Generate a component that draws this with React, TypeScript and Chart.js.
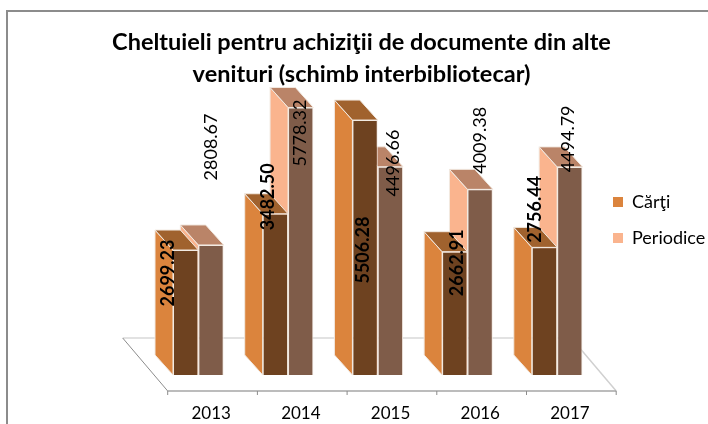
import React, { useEffect, useRef } from "react";
import { Chart, registerables } from "chart.js";

Chart.register(...registerables);

const categories = ["2013", "2014", "2015", "2016", "2017"];
const carti = [2699.23, 3482.5, 5506.28, 2662.91, 2756.44];
const periodice = [2808.67, 5778.32, 4496.66, 4009.38, 4494.79];
const seriesNames = ["Cărţi", "Periodice"];
const titleLines = ["Cheltuieli pentru achiziţii de documente din alte", "venituri (schimb interbibliotecar)"];

// Manual label placement of the source chart, in px from the top centre of each bar
const labelOffsets = [
  [[-17.7, 23], [-7.4, -17], [-2, 130], [2.2, 11], [-9.5, -38]],
  [[0, -98], [-0.7, 25.5], [2.6, -3.8], [0, -49], [-1.8, -28]],
];

const FONT = "Lato, 'Open Sans', sans-serif";
const faces = [
  { side: "#DB843D", top: "#A0622E", front: "#6E4220" },
  { side: "#FAB48E", top: "#BA8468", front: "#7F5C49" },
];
const DEPTH_X = -18;
const DEPTH_Y = -20;
const FLOOR_DX = 14.2;
const FLOOR_DY = 16;
const FLOOR_BACK_Y = 338;
const FLOOR_BACK_DX = -45;

const poly = (ctx: CanvasRenderingContext2D, pts: number[][], fill: string) => {
  ctx.beginPath();
  pts.forEach(([x, y], i) => (i ? ctx.lineTo(x, y) : ctx.moveTo(x, y)));
  ctx.closePath();
  ctx.fillStyle = fill;
  ctx.fill();
  ctx.strokeStyle = "#F2EAE2";
  ctx.lineWidth = 1;
  ctx.stroke();
};

const line = (ctx: CanvasRenderingContext2D, a: number[], b: number[], c: string, w: number) => {
  ctx.beginPath();
  ctx.moveTo(a[0], a[1]);
  ctx.lineTo(b[0], b[1]);
  ctx.strokeStyle = c;
  ctx.lineWidth = w;
  ctx.stroke();
};

const threeD = {
  id: "threeD",
  beforeDraw(chart: any) {
    const ctx = chart.ctx;
    ctx.save();
    line(ctx, [7, 424], [7, 11], "#8C8C8C", 2);
    line(ctx, [6, 11], [708, 11], "#8C8C8C", 2);
    ctx.restore();
  },
  afterLayout(chart: any) {
    const l = chart.legend;
    l.left = chart.chartArea.right + 11 - 18;
    l.right = 708;
    l.width = l.right - l.left;
    l.top = 175;
  },
  beforeDatasetsDraw(chart: any) {
    const ctx = chart.ctx;
    const { left, right, bottom } = chart.chartArea;
    const fy = bottom + FLOOR_DY;
    const fl = left + FLOOR_DX;
    const fr = right + FLOOR_DX;
    ctx.save();
    line(ctx, [fl + FLOOR_BACK_DX, FLOOR_BACK_Y], [fr + FLOOR_BACK_DX, FLOOR_BACK_Y], "#D9D9D9", 1.5);
    line(ctx, [fr + FLOOR_BACK_DX, FLOOR_BACK_Y], [fr, fy], "#D0D0D0", 1.5);
    line(ctx, [fl + FLOOR_BACK_DX, FLOOR_BACK_Y], [fl, fy], "#8C8C8C", 1);
    line(ctx, [fl, fy], [fr, fy], "#A6A6A6", 1.5);
    const w = (right - left) / categories.length;
    for (let i = 0; i <= categories.length; i++) {
      line(ctx, [fl + i * w, fy], [fl + i * w, fy + 4], "#8C8C8C", 1);
    }
    ctx.restore();
  },
  beforeDatasetDraw(chart: any, args: any) {
    const ctx = chart.ctx;
    const f = faces[args.index];
    ctx.save();
    args.meta.data.forEach((el: any) => {
      const { x, y, base, width } = el.getProps(["x", "y", "base", "width"], true);
      const l = x - width / 2;
      const r = x + width / 2;
      poly(ctx, [[l, y], [l + DEPTH_X, y + DEPTH_Y], [l + DEPTH_X, base + DEPTH_Y], [l, base]], f.side);
      poly(ctx, [[l, y], [l + DEPTH_X, y + DEPTH_Y], [r + DEPTH_X, y + DEPTH_Y], [r, y]], f.top);
    });
    ctx.restore();
  },
  afterDatasetsDraw(chart: any) {
    const ctx = chart.ctx;
    ctx.save();
    ctx.fillStyle = "#000";
    ctx.textAlign = "center";
    ctx.textBaseline = "middle";
    chart.data.datasets.forEach((ds: any, di: number) => {
      chart.getDatasetMeta(di).data.forEach((el: any, i: number) => {
        const { x, y } = el.getProps(["x", "y"], true);
        ctx.save();
        ctx.translate(x + labelOffsets[di][i][0], y + labelOffsets[di][i][1]);
        ctx.rotate(-Math.PI / 2);
        ctx.font = `${di === 0 ? "bold " : ""}18px ${FONT}`;
        ctx.fillText(ds.data[i].toFixed(2), 0, 0);
        ctx.restore();
      });
    });
    ctx.restore();
  },
};

export default function App() {
  const ref = useRef<HTMLCanvasElement>(null);
  useEffect(() => {
    document.body.style.margin = "0";
    const chart = new Chart(ref.current!, {
      type: "bar",
      data: {
        labels: categories,
        datasets: [
          { label: seriesNames[0], data: carti, backgroundColor: faces[0].front, borderColor: "#F2EAE2", borderWidth: 1 },
          { label: seriesNames[1], data: periodice, backgroundColor: faces[1].front, borderColor: "#F2EAE2", borderWidth: 1 },
        ],
      },
      options: {
        responsive: false,
        animation: false,
        layout: { padding: { left: 15, right: 0, top: 0, bottom: 0 } },
        datasets: { bar: { categoryPercentage: 0.565, barPercentage: 1 } },
        scales: {
          x: {
            grid: { display: false },
            border: { display: false },
            afterFit: (s: any) => { s.height = 49; },
            ticks: {
              maxRotation: 0,
              autoSkip: false,
              labelOffset: 12.8,
              padding: 20,
              color: "#000",
              font: { family: FONT, size: 17 },
            },
          },
          y: {
            min: 0,
            max: 6000,
            grid: { display: false },
            border: { display: false },
            ticks: { display: false },
            afterFit: (s: any) => { s.width = 138.5; },
          },
        },
        plugins: {
          title: {
            display: true,
            text: titleLines,
            color: "#000",
            font: { family: FONT, size: 23.5, weight: "bold", lineHeight: 1.37 },
            padding: { top: 26, bottom: 6.8 },
          },
          legend: {
            position: "right",
            align: "start",
            maxWidth: 106,
            labels: {
              boxWidth: 10,
              boxHeight: 10,
              padding: 18,
              color: "#000",
              font: { family: FONT, size: 18 },
              generateLabels: () =>
                seriesNames.map((text, i) => ({
                  text,
                  fillStyle: faces[i].side,
                  strokeStyle: faces[i].side,
                  lineWidth: 0,
                  datasetIndex: i,
                })),
            },
          },
          tooltip: { enabled: false },
        },
      },
      plugins: [threeD],
    } as any);
    return () => chart.destroy();
  }, []);
  return <canvas ref={ref} width={708} height={424} style={{ display: "block" }} />;
}
